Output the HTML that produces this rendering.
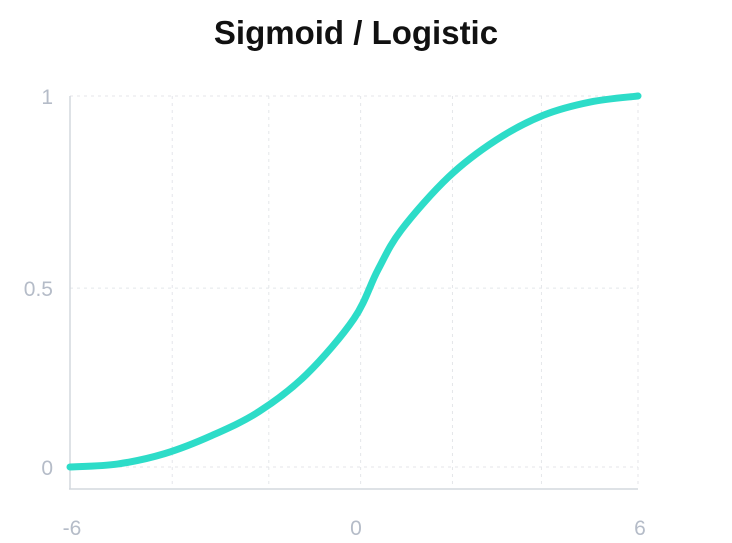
<!DOCTYPE html>
<html><head><meta charset="utf-8"><style>
body{margin:0;background:#fff;}
svg{display:block;font-family:"Liberation Sans",sans-serif;}
</style></head><body>
<svg id="chart" width="732" height="543">
<text x="356" y="44" text-anchor="middle" font-size="33" font-weight="bold" fill="#111">Sigmoid / Logistic</text>
<g id="grid"></g>
<g id="axes"></g>
<path id="curve" fill="none" stroke="#2ddcc8" stroke-width="7" stroke-linecap="round" stroke-linejoin="round"/>
</svg>
<script>
const xValues=[-6,-5,-4,-3,-2,-1,0,0.5,1,2,3,4,5,6];
const yValues=[0,0.008,0.036,0.085,0.15,0.25,0.4,0.53,0.639,0.782,0.881,0.948,0.984,1];
const xTicks=[-6,0,6];
const yTickPos=[0,0.482,1];
const yTickLabels=["0","0.5","1"];
const xGrid=[-3.84,-1.8,0.14,2.08,3.96,6];
const X=v=>70+(v+6)/12*568;
const Y=v=>467-v*371;
const ns="http://www.w3.org/2000/svg";
function mk(tag,attrs,parent){const e=document.createElementNS(ns,tag);for(const k in attrs)e.setAttribute(k,attrs[k]);parent.appendChild(e);return e;}
const grid=document.getElementById('grid'),axes=document.getElementById('axes');
xGrid.forEach(v=>{const l=mk('line',{x1:X(v),x2:X(v),y1:96,y2:488,stroke:'#e4e6ea','stroke-dasharray':'3 4'},grid);

});
yTickPos.forEach((v,i)=>{const l=mk('line',{x1:70,x2:638,y1:Y(v),y2:Y(v),stroke:'#e4e6ea','stroke-dasharray':'3 4'},grid);


const t=mk('text',{x:53,y:Y(v)+8,'text-anchor':'end','font-size':21,fill:'#b5bcc8'},axes);t.textContent=yTickLabels[i];

});
const ya=mk('line',{x1:70,x2:70,y1:96,y2:489,stroke:'#d4d8de','stroke-width':1.5},axes);


const xa=mk('line',{x1:69,x2:638,y1:489,y2:489,stroke:'#d4d8de','stroke-width':1.5},axes);


xTicks.forEach(v=>{const t=mk('text',{x:X(v)+2,y:535,'text-anchor':'middle','font-size':21,fill:'#b5bcc8'},axes);t.textContent=v;

});
const pts=xValues.map((x,i)=>[X(x),Y(yValues[i])]);
let d=`M${pts[0][0]},${pts[0][1]}`;
for(let i=0;i<pts.length-1;i++){const p0=pts[Math.max(0,i-1)],p1=pts[i],p2=pts[i+1],p3=pts[Math.min(pts.length-1,i+2)];
d+=` C${p1[0]+(p2[0]-p0[0])/6},${p1[1]+(p2[1]-p0[1])/6} ${p2[0]-(p3[0]-p1[0])/6},${p2[1]-(p3[1]-p1[1])/6} ${p2[0]},${p2[1]}`;}
document.getElementById('curve').setAttribute('d',d);
</script>
</body></html>
